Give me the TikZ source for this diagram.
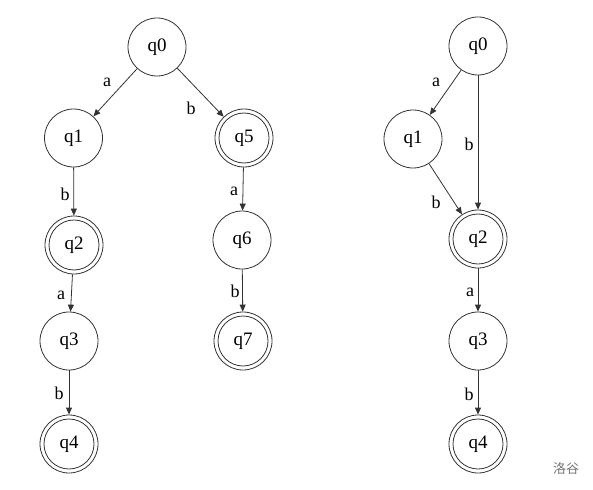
\documentclass[tikz,border=0pt]{standalone}
\usepackage{fontspec}
\setmainfont{Liberation Serif}
\newfontfamily\cjkfont{Noto Sans CJK SC}
\usetikzlibrary{arrows.meta}
\definecolor{edgegray}{HTML}{333333}
\tikzset{
  st/.style={circle, draw=edgegray, line width=0.8pt, minimum size=58pt, inner sep=0pt,
    font=\fontsize{19}{19}\selectfont},
  acc/.style={st, path picture={\draw[edgegray, line width=0.8pt] (path picture bounding box.center) circle (25pt);}},
  tr/.style={draw=edgegray, line width=0.8pt, -{Triangle[length=7pt,width=6pt]}},
  lbl/.style={font=\fontsize{18}{18}\selectfont, inner sep=0pt}
}
\begin{document}
\begin{tikzpicture}[x=1pt, y=-1pt]
\useasboundingbox (0,0) rectangle (593,489);
% left automaton
\node[st]  (Lq0) at (157,47)  {q0};
\node[st]  (Lq1) at (73.5,138) {q1};
\node[acc] (Lq5) at (244,138) {q5};
\node[acc] (Lq2) at (74,245)  {q2};
\node[st]  (Lq6) at (242,240) {q6};
\node[st]  (Lq3) at (69,341)  {q3};
\node[acc] (Lq7) at (243,341) {q7};
\node[acc] (Lq4) at (69,444)  {q4};
\draw[tr] (Lq0) -- (Lq1) node[lbl, at={(107,82)}] {a};
\draw[tr] (Lq0) -- (Lq5) node[lbl, at={(191,108)}] {b};
\draw[tr] (Lq1) -- (Lq2) node[lbl, at={(65,194)}] {b};
\draw[tr] (Lq5) -- (Lq6) node[lbl, at={(234,191)}] {a};
\draw[tr] (Lq2) -- (Lq3) node[lbl, at={(61,295)}] {a};
\draw[tr] (Lq6) -- (Lq7) node[lbl, at={(235,291)}] {b};
\draw[tr] (Lq3) -- (Lq4) node[lbl, at={(59,393)}] {b};
% right automaton
\node[st]  (Rq0) at (478,46)  {q0};
\node[st]  (Rq1) at (413,139) {q1};
\node[acc] (Rq2) at (478,239) {q2};
\node[st]  (Rq3) at (478,341) {q3};
\node[acc] (Rq4) at (478,444) {q4};
\draw[tr] (Rq0) -- (Rq1) node[lbl, at={(436,82)}] {a};
\draw[tr] (Rq0) -- (Rq2) node[lbl, at={(469,144)}] {b};
\draw[tr] (Rq1) -- (Rq2) node[lbl, at={(436,202)}] {b};
\draw[tr] (Rq2) -- (Rq3) node[lbl, at={(470,292)}] {a};
\draw[tr] (Rq3) -- (Rq4) node[lbl, at={(469,394)}] {b};
% watermark
\node[inner sep=0pt, text=black!55, font=\cjkfont\fontsize{13}{13}\selectfont] (wm) at (566,469) {洛谷};
\end{tikzpicture}
\end{document}
